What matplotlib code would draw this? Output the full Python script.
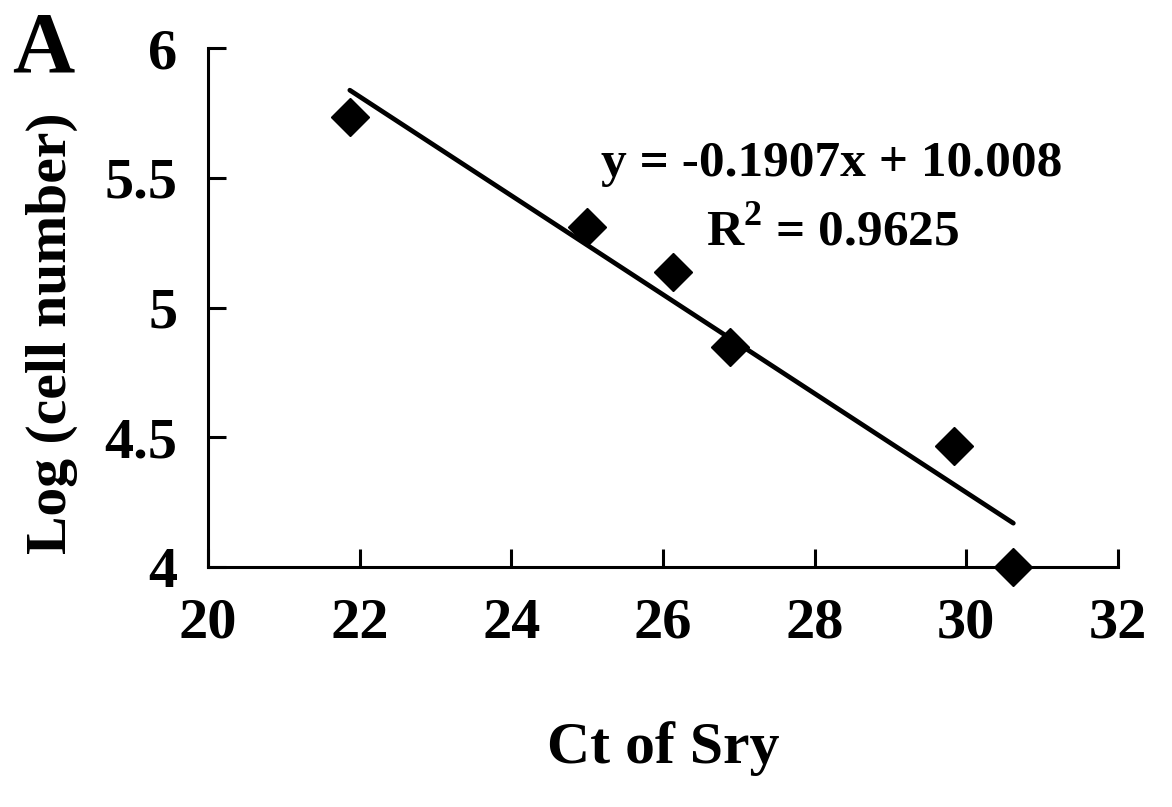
import matplotlib
matplotlib.use("Agg")
import matplotlib.pyplot as plt
import numpy as np

ct_values = [21.87, 25.0, 26.13, 26.89, 29.84, 30.62]
log_cells = [5.735, 5.31, 5.135, 4.846, 4.465, 4.0]
slope = -0.1907
intercept = 10.008
r_squared = 0.9625
x_ticks = [20, 22, 24, 26, 28, 30, 32]
y_ticks = [4, 4.5, 5, 5.5, 6]
y_tick_labels = ["4", "4.5", "5", "5.5", "6"]

W, H = 1172, 807
plt.rcParams['font.family'] = ['Liberation Serif', 'DejaVu Serif']
plt.rcParams['font.weight'] = 'bold'
plt.rcParams['mathtext.fontset'] = 'custom'
plt.rcParams['mathtext.bf'] = 'Liberation Serif:bold'
plt.rcParams['mathtext.rm'] = 'Liberation Serif:bold'
fig = plt.figure(figsize=(W / 100, H / 100), dpi=100)
ax = fig.add_axes([208 / W, 1 - 567 / H, (1118 - 208) / W, (567 - 48) / H])

ax.plot(ct_values, log_cells, linestyle='none', marker='D', ms=19, color='black', clip_on=False, zorder=3)
xl = np.array([min(ct_values), max(ct_values)])
ax.plot(xl, slope * xl + intercept, color='black', lw=3.4, solid_capstyle='round', zorder=2)

ax.set_xlim(20, 32)
ax.set_ylim(4, 6)
ax.set_xticks(x_ticks)
ax.set_yticks(y_ticks)
ax.set_yticklabels(y_tick_labels)
for s in ['top', 'right']:
    ax.spines[s].set_visible(False)
for s in ['left', 'bottom']:
    ax.spines[s].set_linewidth(2.2)
ax.tick_params(direction='in', length=13, width=2.2, labelsize=42)
ax.tick_params(axis='x', pad=22)
ax.tick_params(axis='y', pad=22)
for lab in ax.get_xticklabels() + ax.get_yticklabels():
    lab.set_fontweight('bold')

fig.text(663 / W, 1 - 763 / H, "Ct of Sry", ha='center', va='baseline', fontsize=43, fontweight='bold')
fig.text(52 / W, 1 - 333 / H, "Log (cell number)", ha='center', va='center', rotation=90, fontsize=41.5, fontweight='bold')
fig.text(12 / W, 1 - 72 / H, "A", ha='left', va='baseline', fontsize=62, fontweight='bold')
fig.text(832 / W, 1 - 176 / H, f"y = {slope}x + {intercept:.3f}", ha='center', va='baseline', fontsize=37, fontweight='bold')
fig.text(833 / W, 1 - 246 / H, "R$^{\\mathbf{2}}$" + f" = {r_squared}", ha='center', va='baseline', fontsize=37, fontweight='bold')

fig.savefig("out.png", dpi=100)
